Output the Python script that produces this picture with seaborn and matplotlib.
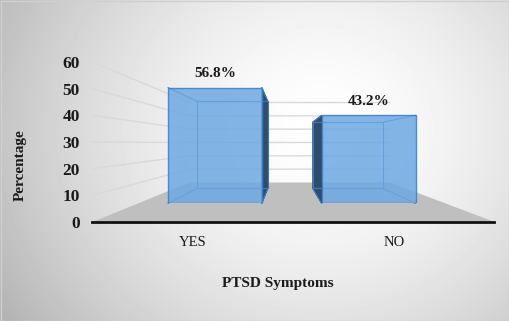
import numpy as np
import matplotlib
matplotlib.use("Agg")
import matplotlib.pyplot as plt
from matplotlib.patches import Polygon, Rectangle
import seaborn as sns
import pandas as pd

# ---- data ----
categories = ["YES", "NO"]
values = [56.8, 43.2]
value_labels = ["56.8%", "43.2%"]
y_ticks = [0, 10, 20, 30, 40, 50, 60]
x_title = "PTSD Symptoms"
y_title = "Percentage"

sns.set_theme(style="white")
plt.rcParams["font.family"] = ["Liberation Serif", "DejaVu Serif"]

W, H = 510, 321
fig = plt.figure(figsize=(W / 100, H / 100), dpi=100)

# ---- geometry (pixels) ----
VX, VY = 286.0, 143.0              # vanishing point
FX0, FX1 = 92.5, 494.5             # front plane x extent (category -0.5 .. 1.5)
FY0, FY1 = 222.0, 62.0             # front plane y (value 0 .. 60)
S_BAR_F, S_BAR_B, S_WALL = 0.765, 0.575, 0.5
XLIM = (-0.5, len(categories) - 0.5)
YLIM = (0, 60)
BAR_W = 0.61


def front(xd, yd):
    px = FX0 + (xd - XLIM[0]) / (XLIM[1] - XLIM[0]) * (FX1 - FX0)
    py = FY0 + (yd - YLIM[0]) / (YLIM[1] - YLIM[0]) * (FY1 - FY0)
    return px, py


def proj(xd, yd, s):
    px, py = front(xd, yd)
    return VX + s * (px - VX), VY + s * (py - VY)


def fig_rect(x0, y_top, x1, y_bot):
    return [x0 / W, 1 - y_bot / H, (x1 - x0) / W, (y_bot - y_top) / H]


# ---- background axes ----
bg = fig.add_axes([0, 0, 1, 1], zorder=0)
bg.set_xlim(0, W)
bg.set_ylim(H, 0)
bg.axis("off")
yy, xx = np.mgrid[0:H, 0:W]
d = np.sqrt(((xx - 320) / 330.0) ** 2 + ((yy - 130) / 300.0) ** 2)
shade = 1.0 - 0.24 * np.clip(d, 0, 1.15) ** 1.6
bg.imshow(shade, cmap="gray", vmin=0, vmax=1, extent=(0, W, H, 0), aspect="auto", zorder=0)
bg.add_patch(Rectangle((0.5, 0.5), W - 1, H - 1, fill=False, edgecolor="#cfcfcf", lw=1, zorder=1))

# floor
fl = [front(XLIM[0], 0), front(XLIM[1], 0), proj(XLIM[1], 0, S_WALL), proj(XLIM[0], 0, S_WALL)]
bg.add_patch(Polygon(fl, closed=True, facecolor="#bfbfbf", edgecolor="none", zorder=2))

# gridlines: left wall + back wall
for t in y_ticks[1:]:
    a = front(XLIM[0], t)
    b = proj(XLIM[0], t, S_WALL)
    c = proj(XLIM[1], t, S_WALL)
    bg.plot([a[0], b[0], c[0]], [a[1], b[1], c[1]], color="#d9d9d9", lw=1, zorder=2)

# 3D bar decorations (side faces, back edges)
for i, v in enumerate(values):
    xl, xr = i - BAR_W / 2, i + BAR_W / 2
    cx, _ = proj(i, 0, S_BAR_F)
    side_x = xr if cx < VX else xl
    poly = [proj(side_x, v, S_BAR_F), proj(side_x, v, S_BAR_B),
            proj(side_x, 0, S_BAR_B), proj(side_x, 0, S_BAR_F)]
    bg.add_patch(Polygon(poly, closed=True, facecolor="#2e4c6e", edgecolor="#2a4566", lw=0.8, zorder=3))
    back = [proj(xl, v, S_BAR_B), proj(xr, v, S_BAR_B), proj(xr, 0, S_BAR_B), proj(xl, 0, S_BAR_B)]
    bg.add_patch(Polygon(back, closed=True, facecolor="none", edgecolor="#3f78b8", lw=0.8, zorder=3))
    for (x, y) in [(xl, v), (xr, v), (xr, 0), (xl, 0)]:
        p, q = proj(x, y, S_BAR_F), proj(x, y, S_BAR_B)
        bg.plot([p[0], q[0]], [p[1], q[1]], color="#3f78b8", lw=0.8, zorder=3)

# ---- bar axes (front faces drawn by seaborn) ----
bx0, by_bot = proj(XLIM[0], YLIM[0], S_BAR_F)
bx1, by_top = proj(XLIM[1], YLIM[1], S_BAR_F)
ba = fig.add_axes(fig_rect(bx0, by_top, bx1, by_bot), zorder=2)
df = pd.DataFrame({"cat": categories, "val": values})
sns.barplot(data=df, x="cat", y="val", ax=ba, width=BAR_W, color="#6ea8e3",
            saturation=1, edgecolor="#3b7cc6", linewidth=1.0, alpha=0.85)
ba.set_xlim(*XLIM)
ba.set_ylim(*YLIM)
ba.axis("off")
ba.patch.set_alpha(0)
for i, v in enumerate(values):
    ba.annotate(value_labels[i], (i, v), xytext=(0, 5.5), textcoords="offset points",
                ha="center", va="bottom", fontsize=11, fontweight="bold", color="#1a1a1a")

# ---- front axes (ticks, baseline) ----
fa = fig.add_axes(fig_rect(FX0, FY1, FX1, FY0), zorder=3)
fa.patch.set_alpha(0)
fa.set_xlim(*XLIM)
fa.set_ylim(*YLIM)
fa.set_xticks(range(len(categories)))
fa.set_xticklabels(categories, fontsize=10.5, color="#1a1a1a")
fa.set_yticks(y_ticks)
fa.set_yticklabels([str(t) for t in y_ticks], fontsize=12.5, fontweight="bold", color="#1a1a1a")
fa.tick_params(axis="x", length=0, pad=10)
fa.tick_params(axis="y", length=0, pad=9)
for s in ["top", "right", "left"]:
    fa.spines[s].set_visible(False)
fa.spines["bottom"].set_color("#111111")
fa.spines["bottom"].set_linewidth(2)
fa.grid(False)

fig.text(20 / W, 1 - 165 / H, y_title, rotation=90, ha="center", va="center",
         fontsize=11, fontweight="bold", color="#1a1a1a")
fig.text(277.5 / W, 1 - 283 / H, x_title, ha="center", va="center",
         fontsize=11, fontweight="bold", color="#1a1a1a")

fig.savefig("out.png", dpi=100)
